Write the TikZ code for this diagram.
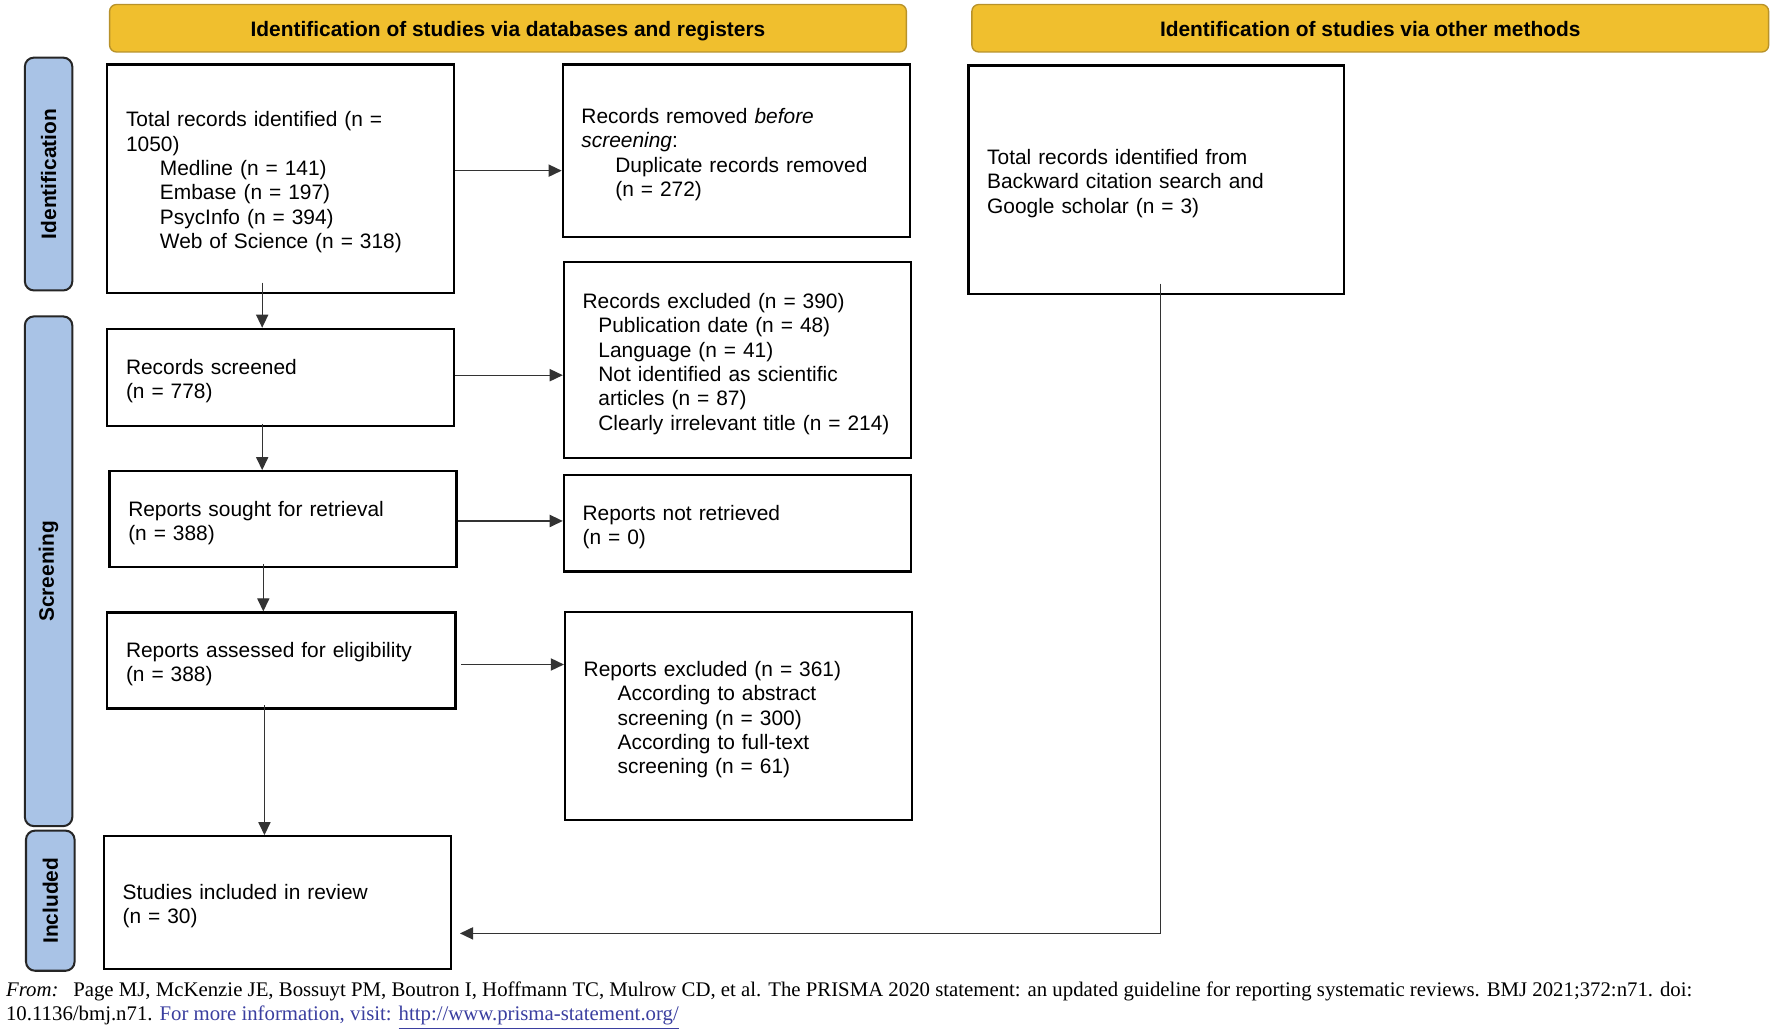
\documentclass[tikz,border=0pt]{standalone}
\usepackage{fontspec}
\setmainfont{Liberation Sans}
\newfontfamily\myFootFont{Liberation Serif}
\usetikzlibrary{arrows.meta,calc}
\definecolor{gold}{HTML}{F0BF2E}
\definecolor{goldedge}{HTML}{B8922A}
\definecolor{sideblue}{HTML}{A9C3E6}
\definecolor{linkblue}{HTML}{3B3FA0}
\newcommand{\myBodyFont}{\fontsize{9.25pt}{10.75pt}\selectfont}
\newcommand{\ind}{\hspace*{15pt}}
\newcommand{\indS}{\hspace*{7pt}}
\begin{document}
\begin{tikzpicture}[x=0.5pt,y=-0.5pt,
  box/.style={draw=black, line width=1pt, fill=white, inner xsep=8.25pt, inner ysep=0pt,
    align=left, font=\myBodyFont, text width=137pt,
    execute at begin node={\rule{0pt}{10pt}}},
  hdr/.style={draw=goldedge, line width=0.6pt, fill=gold, rounded corners=3pt,
    minimum width=352.5pt, minimum height=21pt, inner sep=0pt,
    text height=8pt, text depth=1pt,
    font=\fontsize{9.25pt}{11pt}\selectfont\bfseries},
  side/.style={draw=black!85, line width=0.9pt, fill=sideblue, rounded corners=4pt,
    minimum height=21pt, inner sep=0pt, rotate=90,
    font=\fontsize{9.25pt}{11pt}\selectfont\bfseries},
  arr/.style={-{Triangle[length=5.8pt,width=5.4pt]}, line width=0.6pt, draw=black!80},
  foot/.style={anchor=base west, inner sep=0pt, font=\myFootFont\fontsize{9.2pt}{11pt}\selectfont}
]
\useasboundingbox[fill=white] (0,0) rectangle (1568,914);

% headers
\node[hdr] (h1) at (449.5,25) {Identification of studies via databases and registers};
\node[hdr] (h2) at (1212.5,25) {Identification of studies via other methods};

% side labels
\node[side, minimum width=103pt] (s1) at (43,154) {Identification};
\node[side, minimum width=225.5pt] (s2) at (43,505.5) {Screening};
\node[side, minimum width=62pt, minimum height=21.5pt] (s3) at (44.5,797) {Included};

% boxes
\node[box, minimum height=101pt] (A) at (248.5,158) {Total records identified (n =\\1050)\\
\ind Medline (n = 141)\\ \ind Embase (n = 197)\\ \ind PsycInfo (n = 394)\\ \ind Web of Science (n = 318)};
\node[box, minimum height=76.5pt] (B) at (651.5,133.5) {Records removed \textit{before}\\\textit{screening}:\\
\ind Duplicate records removed\\ \ind(n = 272)};
\node[box, minimum height=101pt, text width=149.5pt] (C) at (1023,159) {Total records identified from\\Backward citation search and\\Google scholar (n = 3)};
\node[box, minimum height=43pt] (D) at (248.5,334) {Records screened\\(n = 778)};
\node[box, minimum height=86.75pt] (E) at (652.5,318.75) {Records excluded (n = 390)\\
\indS Publication date (n = 48)\\ \indS Language (n = 41)\\ \indS Not identified as scientific\\ \indS articles (n = 87)\\ \indS Clearly irrelevant title (n = 214)};
\node[box, minimum height=42.5pt] (F) at (250.5,459.5) {Reports sought for retrieval\\(n = 388)};
\node[box, minimum height=42.75pt] (G) at (652.5,463) {Reports not retrieved\\(n = 0)};
\node[box, minimum height=42.5pt, text width=137.5pt] (H) at (249,584.5) {Reports assessed for eligibility\\(n = 388)};
\node[box, minimum height=92.2pt] (I) at (653.5,633.5) {Reports excluded (n = 361)\\
\ind According to abstract\\ \ind screening (n = 300)\\ \ind According to full-text\\ \ind screening (n = 61)};
\node[box, minimum height=58.75pt] (J) at (245.5,798.75) {Studies included in review\\(n = 30)};

% connectors
\draw[arr] ([yshift=3.5pt]A.east) -- ([yshift=3.5pt]A.east -| B.west);
\draw[arr] ([yshift=1pt]D.east) -- ([yshift=1pt]D.east -| E.west);
\draw[arr] ([yshift=-0.75pt]F.east) -- ([yshift=-0.75pt]F.east -| G.west);
\draw[arr] ([xshift=2pt,yshift=-1.75pt]H.east) -- ([yshift=-1.75pt]H.east -| I.west);
\draw[arr] ([xshift=-8.25pt,yshift=5pt]A.south) -- ([xshift=-8.25pt]A.south |- D.north);
\draw[arr] ([xshift=-8.25pt,yshift=1.5pt]D.south) -- ([xshift=-8.25pt]D.south |- F.north);
\draw[arr] ([xshift=-8.75pt,yshift=2pt]F.south) -- ([xshift=-8.75pt]F.south |- H.north);
\draw[arr] ([xshift=-7.5pt,yshift=2pt]H.south) -- ([xshift=-7.5pt]H.south |- J.north);
\draw[arr] ([xshift=1.8pt,yshift=5pt]C.south) |- ([xshift=3.5pt,yshift=-13.6pt]J.east);

% footer
\node[foot] (f1) at (5,882)
  {\textit{From:}\hspace{3.5pt} Page MJ, McKenzie JE, Bossuyt PM, Boutron I, Hoffmann TC, Mulrow CD, et al. The PRISMA 2020 statement: an updated guideline for reporting systematic reviews. BMJ 2021;372:n71. doi:};
\node[foot] (f2) at (5,903)
  {10.1136/bmj.n71. \textcolor{linkblue}{For more information, visit: \underline{http://www.prisma-statement.org/}}};
\end{tikzpicture}
\end{document}
